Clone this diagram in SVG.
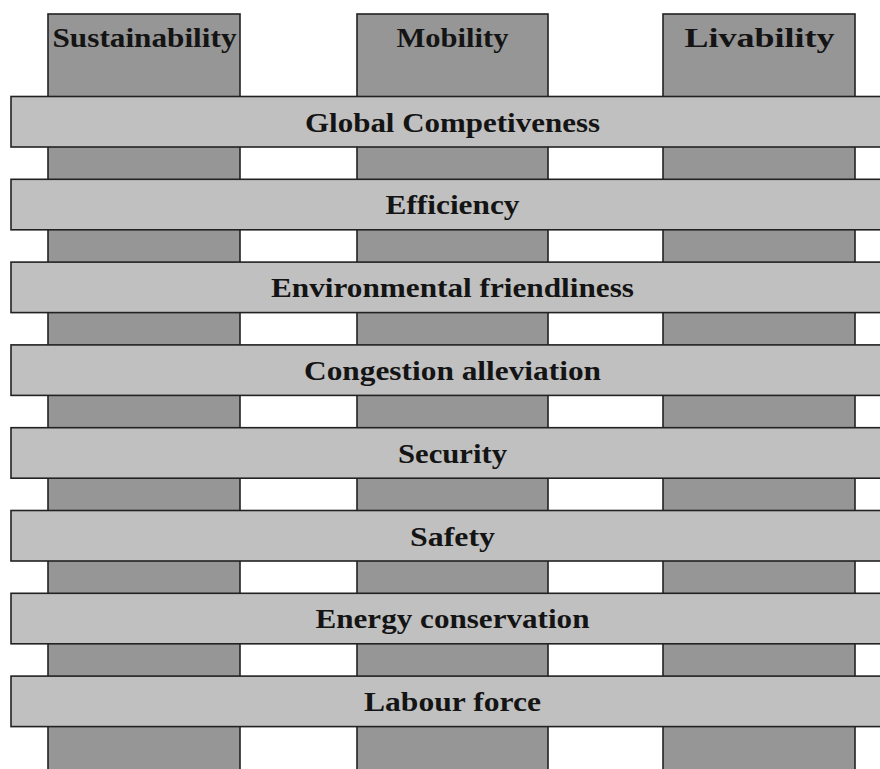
<svg xmlns="http://www.w3.org/2000/svg" width="880" height="769" viewBox="0 0 880 769">
<style>
.col{fill:#969696;stroke:#222;stroke-width:1.6}
.bar{fill:#c0c0c0;stroke:#222;stroke-width:1.6}
.t{font-family:"Liberation Serif","Times New Roman",serif;font-weight:bold;font-size:27px;fill:#141414;text-anchor:middle}
</style>
<rect width="880" height="769" fill="#fff"/>
<g id="col-sustainability"><rect class="col" x="48" y="14" width="192" height="770"/><text class="t" x="144.5" y="46.5" textLength="184" lengthAdjust="spacingAndGlyphs">Sustainability</text></g>
<g id="col-mobility"><rect class="col" x="357" y="14" width="191" height="770"/><text class="t" x="452.5" y="46.5" textLength="112" lengthAdjust="spacingAndGlyphs">Mobility</text></g>
<g id="col-livability"><rect class="col" x="663" y="14" width="192" height="770"/><text class="t" x="759.5" y="46.5" textLength="150" lengthAdjust="spacingAndGlyphs">Livability</text></g>
<g id="connectors"></g>
<g id="bar-global"><rect class="bar" x="11" y="96.5" width="885" height="50.5"/><text class="t" x="452.5" y="131.5" textLength="295" lengthAdjust="spacingAndGlyphs">Global Competiveness</text></g>
<g id="bar-efficiency"><rect class="bar" x="11" y="179.3" width="885" height="50.5"/><text class="t" x="452.5" y="214.3" textLength="134" lengthAdjust="spacingAndGlyphs">Efficiency</text></g>
<g id="bar-environment"><rect class="bar" x="11" y="262.1" width="885" height="50.5"/><text class="t" x="452.5" y="297.1" textLength="363" lengthAdjust="spacingAndGlyphs">Environmental friendliness</text></g>
<g id="bar-congestion"><rect class="bar" x="11" y="344.9" width="885" height="50.5"/><text class="t" x="452.5" y="379.9" textLength="297" lengthAdjust="spacingAndGlyphs">Congestion alleviation</text></g>
<g id="bar-security"><rect class="bar" x="11" y="427.7" width="885" height="50.5"/><text class="t" x="452.5" y="462.7" textLength="109" lengthAdjust="spacingAndGlyphs">Security</text></g>
<g id="bar-safety"><rect class="bar" x="11" y="510.5" width="885" height="50.5"/><text class="t" x="452.5" y="545.5" textLength="85" lengthAdjust="spacingAndGlyphs">Safety</text></g>
<g id="bar-energy"><rect class="bar" x="11" y="593.3" width="885" height="50.5"/><text class="t" x="452.5" y="628.3" textLength="274" lengthAdjust="spacingAndGlyphs">Energy conservation</text></g>
<g id="bar-labour"><rect class="bar" x="11" y="676.1" width="885" height="50.5"/><text class="t" x="452.5" y="711.1" textLength="177" lengthAdjust="spacingAndGlyphs">Labour force</text></g>
</svg>
